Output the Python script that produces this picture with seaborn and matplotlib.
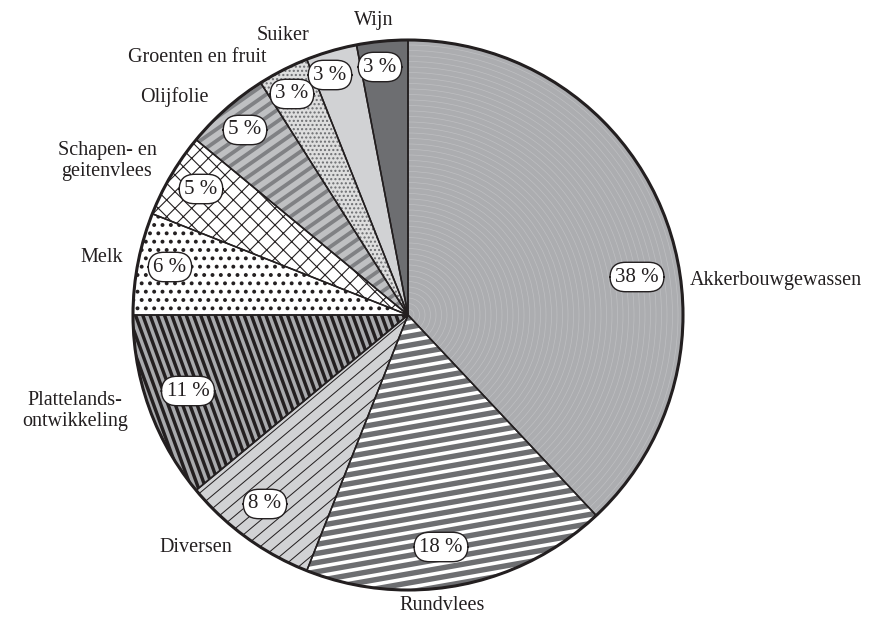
import matplotlib
matplotlib.use("Agg")
import numpy as np
import matplotlib.pyplot as plt
from matplotlib.collections import LineCollection
import seaborn as sns

sns.set_style("white")
plt.rcParams['font.family'] = ['Liberation Serif', 'DejaVu Serif']

# ---- data ----
categories = ["Akkerbouwgewassen", "Rundvlees", "Diversen", "Plattelands-\nontwikkeling",
              "Melk", "Schapen- en\ngeitenvlees", "Olijfolie", "Groenten en fruit",
              "Suiker", "Wijn"]
shares = [38, 18, 8, 11, 6, 5, 5, 3, 3, 3]
pct_labels = [f"{v} %" for v in shares]

# ---- styles ----
face_colors = ["#acadb0", "#6d6e71", "#d1d2d4", "#a9aaad", "#ffffff",
               "#ffffff", "#bfc0c2", "#dedede", "#d1d2d4", "#6d6e71"]
hatches = [None, None, None, None, "..", "xx", None, "....", None, None]
hatch_colors = ["#acadb0", "#6d6e71", "#d1d2d4", "#a9aaad", "#231f20",
                "#231f20", "#bfc0c2", "#6d6e71", "#d1d2d4", "#6d6e71"]
hatch_lw = [1, 1, 1, 1, 1.6, 0.8, 1, 1.0, 1, 1]
# custom stripes: (angle deg, period px, stripe width px, colour) or None
stripes = [None, (10, 9, 3.6, "#ffffff"), (40, 10, 1.0, "#231f20"),
           (-70, 6.8, 3.4, "#231f20"), None, None, (35, 9.5, 3.8, "#808184"),
           None, None, None]
arc_pattern = [True] + [False] * 9

# label layout (pixel coords, top-left origin)
pct_pos = [(637, 277), (441, 547), (265, 504), (188, 391), (170, 267),
           (201, 189), (245, 130), (292, 94), (330, 75), (380, 67)]
cat_pos = [(690, 281, 'left'), (442, 606, 'center'), (196, 548, 'center'),
           (75, 411, 'center'), (102, 258, 'center'), (107, 161, 'center'),
           (174, 97, 'center'), (197, 57, 'center'), (283, 35, 'center'),
           (374, 20, 'center')]

W, H = 878, 617
fig = plt.figure(figsize=(W / 100, H / 100), dpi=100)
ax = fig.add_axes([0, 0, 1, 1])

center = (408, H - 315)
radius = 275

wedges, _ = ax.pie(shares, startangle=90, counterclock=False, center=center,
                   radius=radius, colors=face_colors,
                   wedgeprops=dict(linewidth=0))
for w, h, hc, lw in zip(wedges, hatches, hatch_colors, hatch_lw):
    w.set_edgecolor(hc)
    w.set_linewidth(0)
    if h:
        w.set_hatch(h)
        try:
            w.set_hatch_linewidth(lw)
        except AttributeError:
            pass


def add_stripes(wedge, angle, period, width, color):
    th = np.deg2rad(angle)
    d = np.array([np.cos(th), np.sin(th)])
    n = np.array([-np.sin(th), np.cos(th)])
    c = np.array(center, dtype=float)
    L = radius * 1.5
    segs = []
    for k in np.arange(-radius * 1.5, radius * 1.5, period):
        p = c + k * n
        segs.append([p - L * d, p + L * d])
    lc = LineCollection(segs, colors=color, linewidths=width * 0.72,
                        capstyle='butt', zorder=wedge.get_zorder() + 0.1)
    ax.add_collection(lc)
    lc.set_clip_path(wedge)


def add_arcs(wedge):
    for r in np.arange(6, radius, 5.5):
        circ = plt.Circle(center, r, fill=False, edgecolor="white", alpha=0.22,
                          linewidth=0.5, zorder=wedge.get_zorder() + 0.1)
        ax.add_patch(circ)
        circ.set_clip_path(wedge)


for w, st, arc in zip(wedges, stripes, arc_pattern):
    if st:
        add_stripes(w, *st)
    if arc:
        add_arcs(w)

# outlines
outl, _ = ax.pie(shares, startangle=90, counterclock=False, center=center, radius=radius,
                 wedgeprops=dict(fill=False, edgecolor="#231f20", linewidth=1.1))
for w in outl:
    w.set_zorder(3)
circle = plt.Circle(center, radius, fill=False, edgecolor="#231f20", linewidth=2.2, zorder=3)
ax.add_patch(circle)

for txt, (px, py) in zip(pct_labels, pct_pos):
    ax.text(px, H - py, txt, ha='center', va='center', fontsize=15, color="#231f20",
            zorder=5,
            bbox=dict(boxstyle="round,pad=0.25,rounding_size=0.75", fc="white",
                      ec="#231f20", lw=1.0))

for txt, (px, py, ha) in zip(categories, cat_pos):
    ax.text(px, H - py, txt, ha=ha, va='center', fontsize=14.5, color="#231f20",
            multialignment='center', linespacing=1.15)

ax.set_xlim(0, W)
ax.set_ylim(0, H)
ax.set_aspect('auto')
ax.axis('off')
fig.savefig("out.png", dpi=100, facecolor="white")
